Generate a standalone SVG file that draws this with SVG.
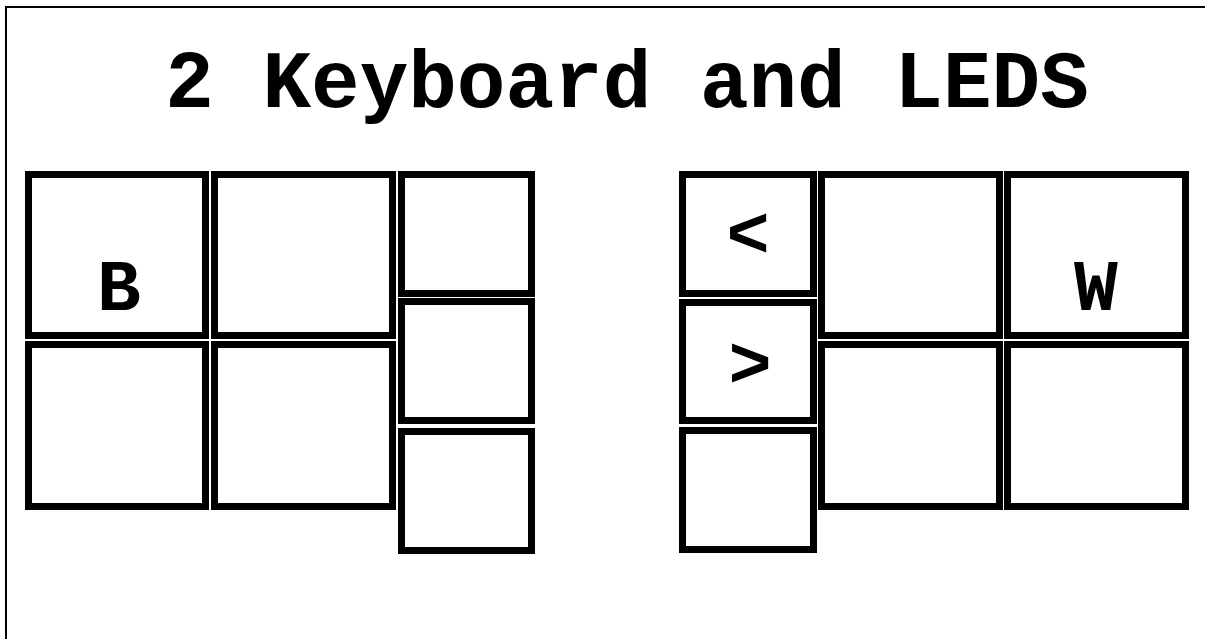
<svg xmlns="http://www.w3.org/2000/svg" width="1205" height="639" viewBox="0 0 1205 639">
<style>
.k{fill:#fff;stroke:#000;stroke-width:7}
.t{font-family:"Courier New","Nimbus Mono PS","FreeMono",Courier,"Liberation Mono",monospace;font-weight:bold;fill:#000;text-anchor:middle}
</style>
<rect x="0" y="0" width="1205" height="639" fill="#fff"/>
<rect x="6" y="7" width="1400" height="900" fill="none" stroke="#000" stroke-width="2"/>
<text class="t" x="627" y="107" font-size="81">2 Keyboard and LEDS</text>
<g id="left-keyboard">
<g id="key-B"><rect class="k" x="28.5" y="174.5" width="177" height="161"/><text class="t" x="119" y="310" font-size="73">B</text></g>
<g id="key-L2"><rect class="k" x="214.5" y="174.5" width="178" height="161"/></g>
<g id="key-L3"><rect class="k" x="28.5" y="344.5" width="177" height="162"/></g>
<g id="key-L4"><rect class="k" x="214.5" y="344.5" width="178" height="162"/></g>
<g id="key-LS1"><rect class="k" x="401.5" y="174.5" width="130" height="119"/></g>
<g id="key-LS2"><rect class="k" x="401.5" y="301.5" width="130" height="119"/></g>
<g id="key-LS3"><rect class="k" x="401.5" y="431.5" width="130" height="119"/></g>
</g>
<g id="right-keyboard">
<g id="key-lt"><rect class="k" x="682.5" y="174.5" width="131" height="119"/><text class="t" x="748" y="257" font-size="72">&lt;</text></g>
<g id="key-gt"><rect class="k" x="682.5" y="302.5" width="131" height="118"/><text class="t" x="750" y="387" font-size="72">&gt;</text></g>
<g id="key-RS3"><rect class="k" x="682.5" y="430.5" width="131" height="119"/></g>
<g id="key-R1"><rect class="k" x="821.5" y="174.5" width="178" height="161"/></g>
<g id="key-W"><rect class="k" x="1007.5" y="174.5" width="178" height="161"/><text class="t" x="1096" y="310" font-size="73">W</text></g>
<g id="key-R3"><rect class="k" x="821.5" y="344.5" width="178" height="162"/></g>
<g id="key-R4"><rect class="k" x="1007.5" y="344.5" width="178" height="162"/></g>
</g>
<g id="connectors"/>
</svg>
